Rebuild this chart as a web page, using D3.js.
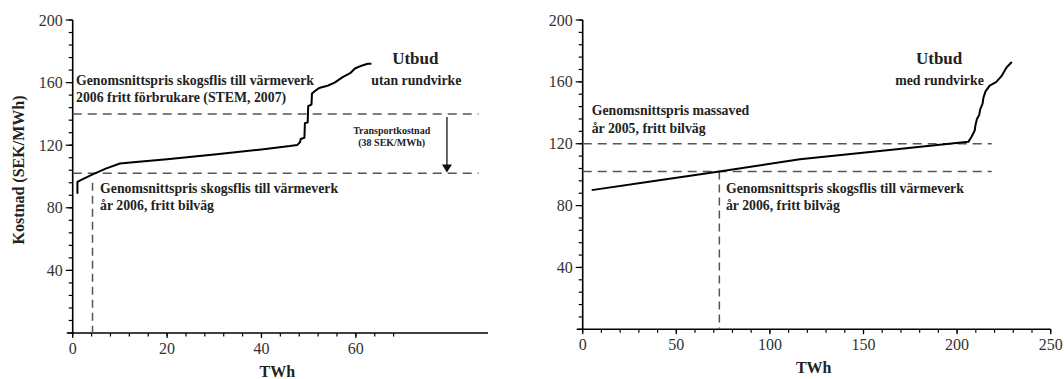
<!DOCTYPE html>
<html>
<head>
<meta charset="utf-8">
<script src="https://cdn.jsdelivr.net/npm/d3@7"></script>
<style>
  html, body { margin: 0; padding: 0; background: #fff; }
  svg { display: block; }
</style>
</head>
<body>
<svg id="chart" width="1064" height="379"></svg>
<script>
// Supply curve without roundwood: [TWh, SEK/MWh]
const supplyWithout = [
  [1.0, 89], [1.0, 96.5], [1.6, 97.5], [4, 101], [7, 105], [10, 108.3], [14, 109.5],
  [20, 111], [30, 114], [40, 117.3], [46, 119.5], [47.6, 120.2], [48.2, 122], [48.3, 124],
  [49.1, 124.8], [49.2, 134], [49.8, 134.6], [49.9, 145], [50.6, 146], [50.7, 153],
  [51.4, 154.8], [52.2, 156.5], [54, 158], [55.5, 160], [57.2, 163.5], [58.8, 166],
  [59.8, 169], [61.2, 170.8], [62.5, 172], [63.3, 172]
];

// Supply curve with roundwood: [TWh, SEK/MWh]
const supplyWith = [
  [4.8, 90], [40, 96.2], [73, 102], [116, 110], [160, 115.5], [206, 121.2],
  [207.8, 124.7], [209.4, 128.5], [209.8, 132], [210.6, 136], [211.8, 138.5], [212.3, 142],
  [213.6, 146], [214.1, 150], [215.2, 153.8], [217.4, 157.6], [220.8, 159.8], [223.6, 163.5],
  [226.4, 169.3], [229.2, 172.8]
];

// Reference prices (SEK/MWh)
const chipPriceDelivered = 140;   // skogsflis, fritt förbrukare
const chipPriceRoadside = 102;    // skogsflis, fritt bilväg
const pulpwoodPrice = 120;        // massaved, fritt bilväg
const transportArrow = [79.3, 138, 102.5]; // TWh, from, to

// Volumes where roadside chip price meets the supply curves (TWh)
const crossLeft = 4.2;
const crossRight = 73;

// Axis ticks
const yTicks = [40, 80, 120, 160, 200];
const yMinor = d3.range(0, 201, 8);
const xTicksLeft = [0, 20, 40, 60];
const xMinorLeft = d3.range(0, 69, 4);
const xTicksRight = [0, 50, 100, 150, 200, 250];
const xMinorRight = d3.range(0, 251, 10);

const SERIF = "Liberation Serif";

const svg = d3.select("#chart");

const panels = [
  {
    x: d3.scaleLinear().domain([0, 88]).range([72.7, 488]),
    y: d3.scaleLinear().domain([0, 200]).range([333, 20]),
    xTicks: xTicksLeft, xMinor: xMinorLeft
  },
  {
    x: d3.scaleLinear().domain([0, 250]).range([582.7, 1050.7]),
    y: d3.scaleLinear().domain([0, 200]).range([329.3, 20]),
    xTicks: xTicksRight, xMinor: xMinorRight
  }
];

function tickText(sel) {
  return sel.attr("font-family", SERIF).attr("font-size", 16).attr("fill", "#333");
}

function drawAxes(p) {
  const g = svg.append("g");
  const x0 = p.x.range()[0], x1 = p.x.range()[1];
  const y0 = p.y.range()[0], y1 = p.y.range()[1];
  // axis lines
  g.append("line").attr("x1", x0).attr("x2", x0).attr("y1", y0).attr("y2", y1)
    .attr("stroke", "#000").attr("stroke-width", 1.6);
  g.append("line").attr("x1", x0 - 6).attr("x2", x1).attr("y1", y0).attr("y2", y0)
    .attr("stroke", "#000").attr("stroke-width", 1.6);
  // y minor ticks
  g.selectAll(".ymin").data(yMinor).join("line")
    .attr("x1", x0 - 4).attr("x2", x0)
    .attr("y1", d => p.y(d)).attr("y2", d => p.y(d))
    .attr("stroke", "#000").attr("stroke-width", 1.2);
  // y major ticks
  g.selectAll(".ymaj").data(yTicks).join("line")
    .attr("x1", x0 - 7).attr("x2", x0)
    .attr("y1", d => p.y(d)).attr("y2", d => p.y(d))
    .attr("stroke", "#000").attr("stroke-width", 1.2);
  g.selectAll(".ylab").data(yTicks).join("text")
    .call(tickText)
    .attr("x", x0 - 10).attr("y", d => p.y(d))
    .attr("dy", "0.35em").attr("text-anchor", "end")
    .text(d => d);
  // x minor ticks
  g.selectAll(".xmin").data(p.xMinor).join("line")
    .attr("x1", d => p.x(d)).attr("x2", d => p.x(d))
    .attr("y1", y0).attr("y2", y0 + 3.5)
    .attr("stroke", "#000").attr("stroke-width", 1.2);
  // x major ticks
  g.selectAll(".xmaj").data(p.xTicks).join("line")
    .attr("x1", d => p.x(d)).attr("x2", d => p.x(d))
    .attr("y1", y0).attr("y2", y0 + 5)
    .attr("stroke", "#000").attr("stroke-width", 1.2);
  g.selectAll(".xlab").data(p.xTicks).join("text")
    .call(tickText)
    .attr("x", d => p.x(d)).attr("y", y0 + 15)
    .attr("dy", "0.35em").attr("text-anchor", "middle")
    .text(d => d);
  // x title
  g.append("text")
    .attr("font-family", SERIF).attr("font-weight", "bold").attr("fill", "#222")
    .attr("font-size", 16)
    .attr("x", (x0 + x1) / 2 - 3).attr("y", y0 + 38)
    .attr("dy", "0.35em").attr("text-anchor", "middle")
    .text("TWh");
}

function hDash(p, value, xEnd) {
  svg.append("line")
    .attr("x1", p.x(0)).attr("x2", p.x(xEnd))
    .attr("y1", p.y(value)).attr("y2", p.y(value))
    .attr("stroke", "#555").attr("stroke-width", 1.5)
    .attr("stroke-dasharray", "9,6");
}

function vDash(p, twh, top) {
  svg.append("line")
    .attr("x1", p.x(twh)).attr("x2", p.x(twh))
    .attr("y1", p.y(top)).attr("y2", p.y(0))
    .attr("stroke", "#555").attr("stroke-width", 1.5)
    .attr("stroke-dasharray", "8,5");
}

function curve(p, data) {
  svg.append("path").datum(data)
    .attr("fill", "none").attr("stroke", "#000").attr("stroke-width", 2)
    .attr("stroke-linejoin", "round")
    .attr("d", d3.line().x(d => p.x(d[0])).y(d => p.y(d[1])));
}

function note(x, y, lines, size, anchor, lh) {
  const t = svg.append("text")
    .attr("font-family", SERIF).attr("font-weight", "bold").attr("fill", "#222")
    .attr("font-size", size)
    .attr("text-anchor", anchor || "start");
  lines.forEach((s, i) => {
    t.append("tspan").attr("x", x).attr("y", y + i * (lh || size * 1.35))
      .attr("dy", "0.35em").text(s);
  });
}

// ---- Left panel: utan rundvirke ----
const L = panels[0];
drawAxes(L);
hDash(L, chipPriceDelivered, 86);
hDash(L, chipPriceRoadside, 86);
vDash(L, crossLeft, 96);
curve(L, supplyWithout);

// transport cost arrow
const [ax, aFrom, aTo] = transportArrow;
svg.append("line")
  .attr("x1", L.x(ax)).attr("x2", L.x(ax))
  .attr("y1", L.y(aFrom)).attr("y2", L.y(aTo) - 7)
  .attr("stroke", "#111").attr("stroke-width", 1.3);
svg.append("path")
  .attr("d", `M${L.x(ax) - 5},${L.y(aTo) - 8} L${L.x(ax) + 5},${L.y(aTo) - 8} L${L.x(ax)},${L.y(aTo)} Z`)
  .attr("fill", "#111");

note(L.x(0.7), 80, ["Genomsnittspris skogsflis till värmeverk", "2006 fritt förbrukare (STEM, 2007)"], 13.8, "start", 16.7);
note(L.x(5.8), 188.5, ["Genomsnittspris skogsflis till värmeverk", "år 2006, fritt bilväg"], 13.8, "start", 16.7);
note(L.x(72.6), 58, ["Utbud"], 17, "middle");
note(L.x(72.8), 80, ["utan rundvirke"], 13.8, "middle");
note(L.x(67.6), 130, ["Transportkostnad", "(38 SEK/MWh)"], 10, "middle", 12.5);

// y title
svg.append("text")
  .attr("font-family", SERIF).attr("font-weight", "bold").attr("fill", "#222")
  .attr("font-size", 16)
  .attr("transform", "translate(18.5,170) rotate(-90)")
  .attr("dy", "0.35em").attr("text-anchor", "middle")
  .text("Kostnad (SEK/MWh)");

// ---- Right panel: med rundvirke ----
const R = panels[1];
drawAxes(R);
hDash(R, pulpwoodPrice, 218.5);
hDash(R, chipPriceRoadside, 218.5);
vDash(R, crossRight, chipPriceRoadside);
curve(R, supplyWith);

note(R.x(4.8), 110, ["Genomsnittspris massaved", "år 2005, fritt bilväg"], 13.8, "start", 17.7);
note(R.x(76.5), 188.5, ["Genomsnittspris skogsflis till värmeverk", "år 2006, fritt bilväg"], 13.8, "start", 16.7);
note(R.x(190.4), 58, ["Utbud"], 17, "middle");
note(R.x(190.6), 80, ["med rundvirke"], 13.8, "middle");
</script>
</body>
</html>
